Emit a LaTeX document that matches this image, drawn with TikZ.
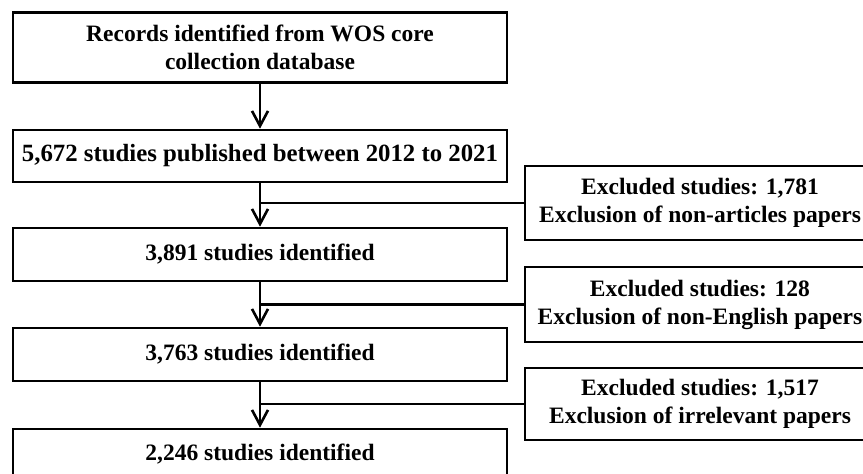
\documentclass[tikz,border=0pt]{standalone}
\usepackage{fontspec}
\setmainfont{Liberation Serif}
\usetikzlibrary{arrows.meta}
\begin{document}
\begin{tikzpicture}[x=1pt,y=-1pt,
  box/.style={draw, line width=2.6pt, align=center, inner sep=0pt,
    font=\fontsize{23.5}{28}\selectfont\bfseries},
  leftbox/.style={box, minimum width=494pt},
  rightbox/.style={box, minimum width=350pt},
  conn/.style={line width=2.6pt},
  flowarrow/.style={conn, -{Straight Barb[length=15pt,width=16pt,line width=2.6pt]}}
]
\useasboundingbox (0,0) rectangle (863,474);
\clip (0,0) rectangle (863,474);

\node[leftbox, minimum height=70pt] (b1) at (260,47.5) {Records identified from WOS core\\collection database};
\node[leftbox, minimum height=52pt, font=\fontsize{24.8}{29}\selectfont\bfseries] (b2) at (260,156) {5,672 studies published between 2012 to 2021};
\node[leftbox, minimum height=53pt] (b3) at (260,254.5) {3,891 studies identified};
\node[leftbox, minimum height=53pt] (b4) at (260,354.5) {3,763 studies identified};
\node[leftbox, minimum height=50pt] (b5) at (260,454) {2,246 studies identified};

\node[rightbox, minimum height=74pt] (e1) at (700,203) {Excluded studies: 1,781\\Exclusion of non-articles papers};
\node[rightbox, minimum height=75pt] (e2) at (700,304.5) {Excluded studies: 128\\Exclusion of non-English papers};
\node[rightbox, minimum height=72pt] (e3) at (700,404) {Excluded studies: 1,517\\Exclusion of irrelevant papers};

\draw[flowarrow] (b1.south) -- (b2.north);
\draw[flowarrow] (b2.south) -- (b3.north);
\draw[flowarrow] (b3.south) -- (b4.north);
\draw[flowarrow] (b4.south) -- (b5.north);

\draw[conn] (b2.south |- e1.west) -- (e1.west);
\draw[conn] (b3.south |- e2.west) -- (e2.west);
\draw[conn] (b4.south |- e3.west) -- (e3.west);
\end{tikzpicture}
\end{document}
